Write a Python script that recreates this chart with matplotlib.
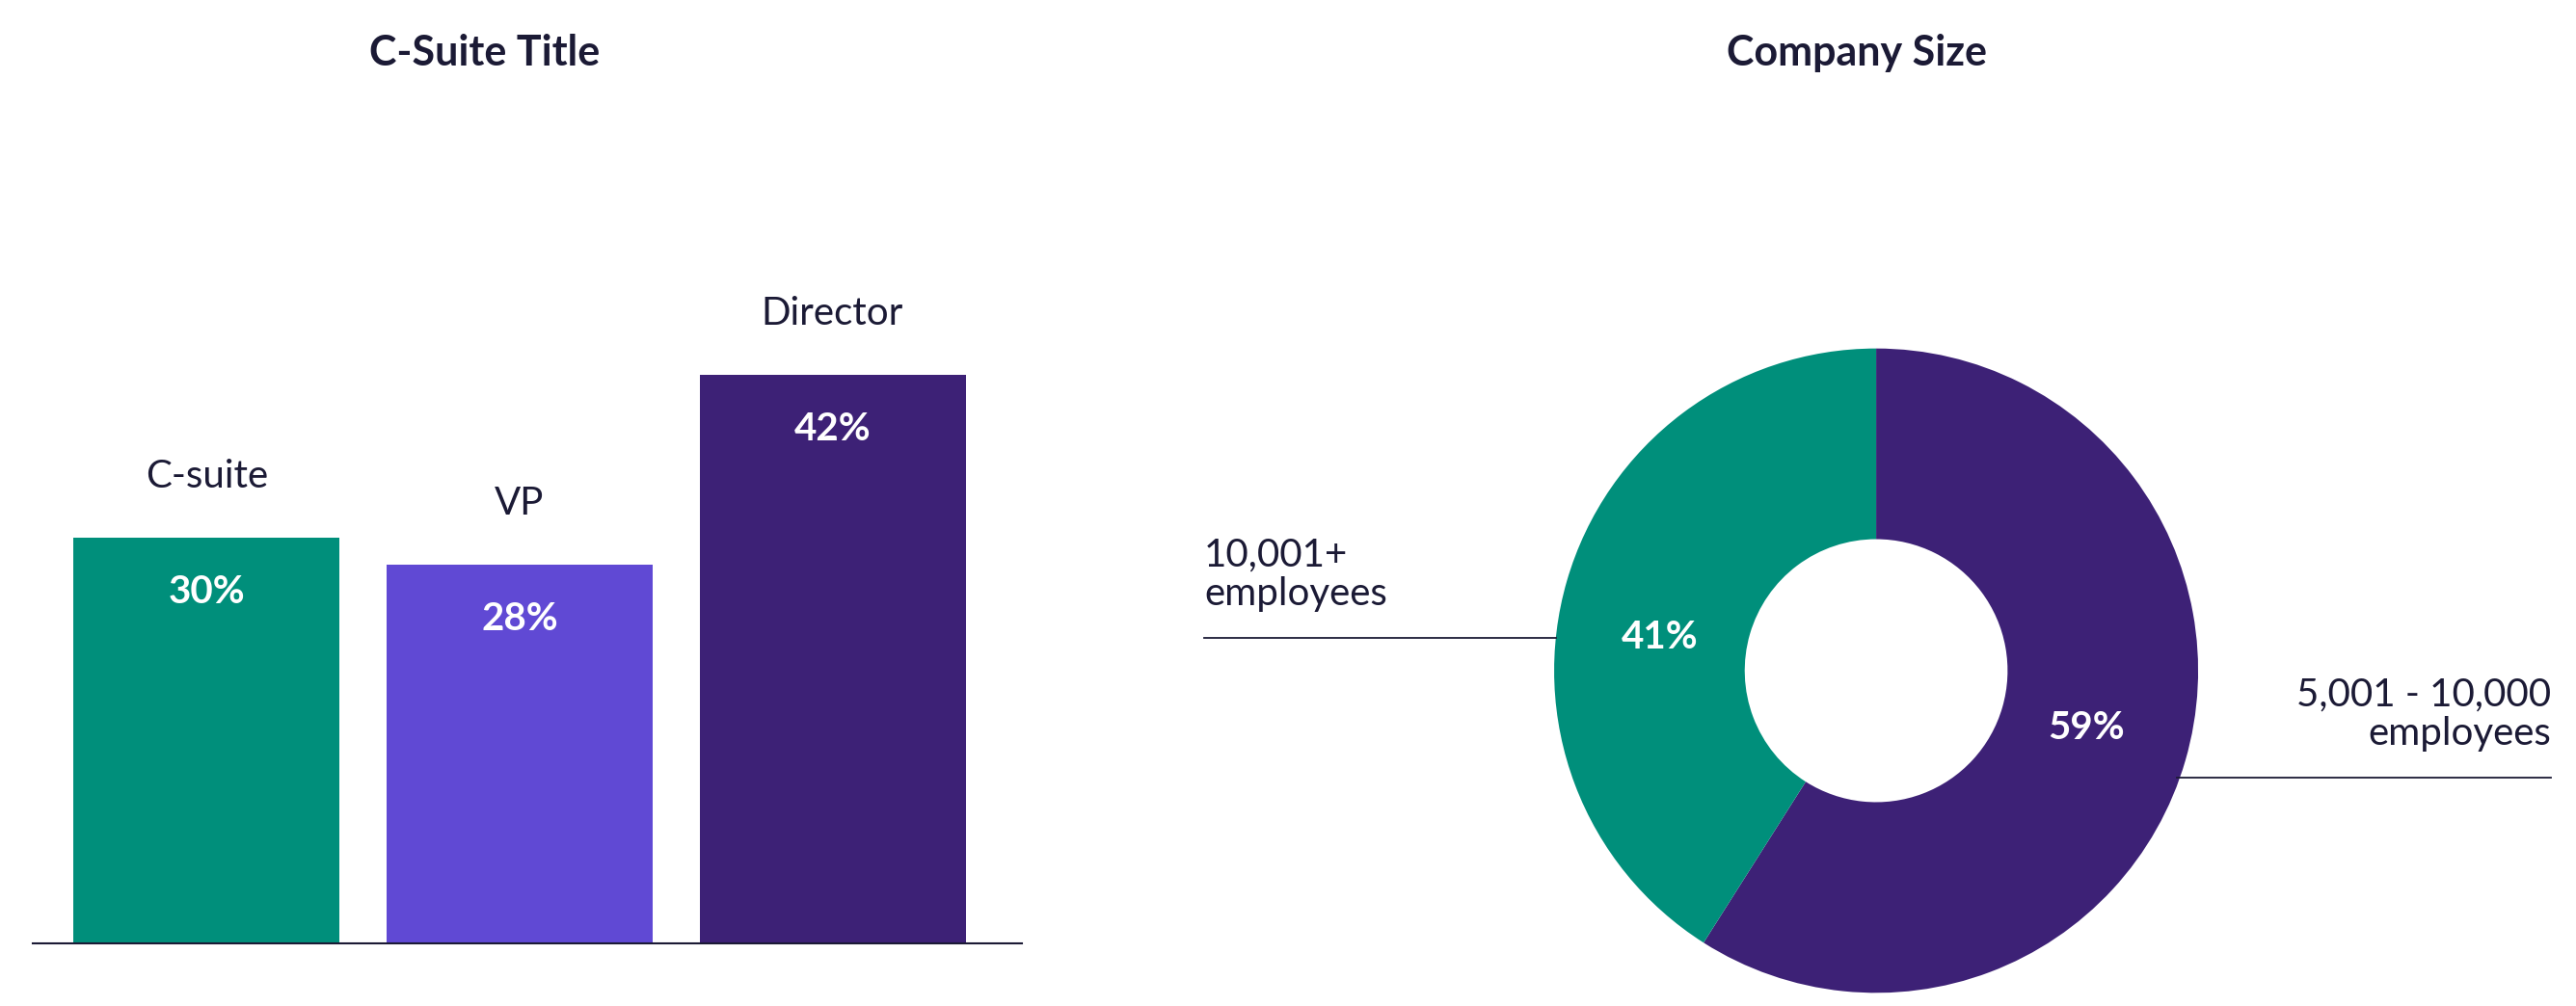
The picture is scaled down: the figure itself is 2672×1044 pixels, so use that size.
import matplotlib
matplotlib.use("Agg")
import matplotlib.pyplot as plt
from matplotlib.lines import Line2D

plt.rcParams['font.family'] = ['Lato', 'DejaVu Sans']

titles = ["C-Suite Title", "Company Size"]
bar_labels = ["C-suite", "VP", "Director"]
bar_values = [30, 28, 42]
bar_colors = ["#008F7B", "#6049D4", "#3D2176"]

size_labels = ["5,001 - 10,000\nemployees", "10,001+\nemployees"]
size_values = [59, 41]
size_colors = ["#3D2176", "#008F7B"]

dark = "#1B1A35"
W, H = 1568, 612  # layout units (reference measured at this scale)

fig = plt.figure(figsize=(26.72, 10.44), dpi=100)

def fx(x):
    return x / W

def fy(y):
    return 1 - y / H

# bar chart
ax = fig.add_axes([fx(20), fy(574), fx(602), fy(150) - fy(574)])
pos = range(len(bar_values))
ax.bar(pos, bar_values, width=0.85, color=bar_colors)
ax.set_xlim(-0.555, 2.605)
ax.set_ylim(0, 51.5)
for sp in ["top", "right", "left"]:
    ax.spines[sp].set_visible(False)
ax.spines["bottom"].set_color(dark)
ax.spines["bottom"].set_linewidth(1.5)
ax.set_xticks([])
ax.set_yticks([])
for i, (lab, v) in enumerate(zip(bar_labels, bar_values)):
    ax.text(i, v + 3.2, lab, ha="center", va="bottom", fontsize=29, color=dark)
    ax.text(i, v - 4, f"{v}%", ha="center", va="center", fontsize=29,
            fontweight="bold", color="white")

fig.text(fx(295), fy(32), titles[0], ha="center", va="center", fontsize=31,
         fontweight="bold", color=dark)
fig.text(fx(1130), fy(32), titles[1], ha="center", va="center", fontsize=31,
         fontweight="bold", color=dark)

# donut
r = 196
cx, cy = 1142, 408
ax2 = fig.add_axes([fx(cx - r), fy(cy + r), fx(2 * r), fy(cy - r) - fy(cy + r)])
ax2.pie(size_values, colors=size_colors, startangle=90, counterclock=False,
        radius=1, wedgeprops=dict(width=1 - 80 / 196, linewidth=0))
ax2.set_xlim(-1, 1)
ax2.set_ylim(-1, 1)
ax2.set_aspect("auto")
ax2.axis("off")

fig.text(fx(1270), fy(443), f"{size_values[0]}%", ha="center", va="center",
         fontsize=29, fontweight="bold", color="white")
fig.text(fx(1010), fy(388), f"{size_values[1]}%", ha="center", va="center",
         fontsize=29, fontweight="bold", color="white")

fig.add_artist(Line2D([fx(733), fx(947)], [fy(388), fy(388)], color=dark, lw=1.3))
fig.add_artist(Line2D([fx(1325), fx(1553)], [fy(473), fy(473)], color=dark, lw=1.3))
fig.text(fx(733), fy(372), size_labels[1], ha="left", va="bottom", fontsize=29,
         color=dark, linespacing=1.1)
fig.text(fx(1553), fy(457), size_labels[0], ha="right", va="bottom", fontsize=29,
         color=dark, linespacing=1.1)

fig.savefig("out.png", dpi=100, facecolor="white")
